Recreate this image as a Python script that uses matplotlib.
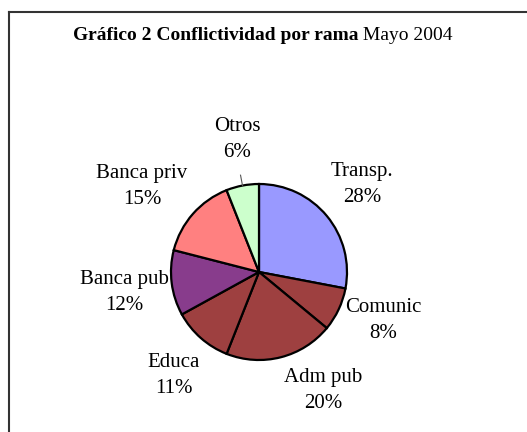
import numpy as np
import matplotlib
matplotlib.use("Agg")
import matplotlib.pyplot as plt
from matplotlib.lines import Line2D

plt.rcParams['font.family'] = ['Liberation Serif', 'DejaVu Serif']

# Data (percent of conflicts by sector, May 2004)
categories = ['Transp.', 'Comunic', 'Adm pub', 'Educa', 'Banca pub', 'Banca priv', 'Otros']
values = [28, 8, 20, 11, 12, 15, 6]

# Style / layout
colors = ['#9999FF', '#9E4040', '#9E4040', '#9E4040', '#883C8C', '#FF8080', '#CCFFCC']
# label block centres in pie-radius units
label_pos = [(1.17, 0.99), (1.41, -0.55), (0.73, -1.35), (-0.97, -1.18),
             (-1.53, -0.23), (-1.33, 0.97), (-0.25, 1.51)]

W, H, dpi = 527, 432, 100
cx, cy, r = 259, 272, 88   # pie centre and radius in pixels

fig = plt.figure(figsize=(W / dpi, H / dpi), dpi=dpi)
ax = fig.add_axes([0, 0, 1, 1])

labels = [f"{c}\n{v}%" for c, v in zip(categories, values)]
wedges, texts = ax.pie(values, labels=labels, colors=colors, startangle=90,
                       counterclock=False,
                       wedgeprops=dict(edgecolor='black', linewidth=1.6))

for t, (lx, ly) in zip(texts, label_pos):
    t.set_position((lx, ly))
    t.set_ha('center')
    t.set_va('center')
    t.set_fontsize(15)
    t.set_linespacing(1.5)

# small leader line for "Otros"
w = wedges[-1]
ang = np.deg2rad((w.theta1 + w.theta2) / 2)
ax.plot([1.0 * np.cos(ang), 1.12 * np.cos(ang)],
        [1.0 * np.sin(ang), 1.12 * np.sin(ang)], color='#555555', lw=0.8)

ax.set_xlim(-cx / r, (W - cx) / r)
ax.set_ylim(-(H - cy) / r, cy / r)
ax.set_aspect('equal')
ax.axis('off')

# title: bold part + regular part
t1 = fig.text(73 / W, 1 - 36 / H, "Gráfico 2 Conflictividad por rama",
              fontsize=14, fontweight='bold', ha='left', va='center')
ax.annotate(" Mayo 2004", xy=(1, 0.5), xycoords=t1, fontsize=14,
            ha='left', va='center', annotation_clip=False)

# chart frame (only top and left edges are visible)
fig.add_artist(Line2D([9 / W, 1], [1 - 12 / H, 1 - 12 / H],
                      transform=fig.transFigure, color='#333333', lw=1.5))
fig.add_artist(Line2D([9 / W, 9 / W], [0, 1 - 12 / H],
                      transform=fig.transFigure, color='#333333', lw=1.5))

fig.savefig('out.png', dpi=dpi)
